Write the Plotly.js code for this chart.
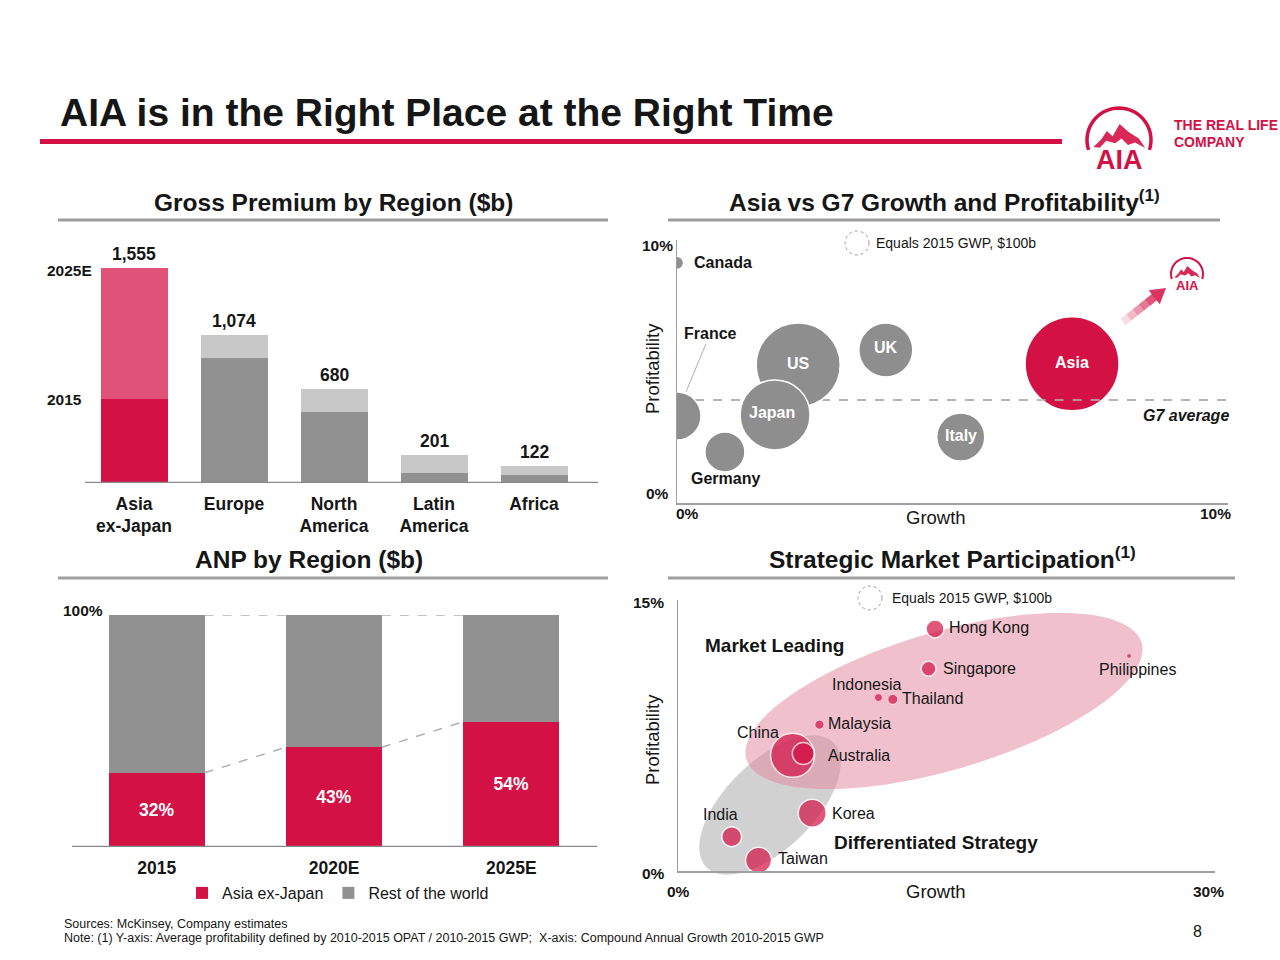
<!DOCTYPE html>
<html><head><meta charset="utf-8">
<script src="https://cdn.plot.ly/plotly-3.0.1.min.js"></script>
<style>html,body{margin:0;padding:0;background:#fff}#chart{width:1280px;height:960px}</style>
</head><body><div id="chart"></div>
<script>
const W = 1280, H = 960;
const FONT = '"Liberation Sans", Arial, Helvetica, sans-serif';

// ---- Gross Premium by Region ($b)
const gpRegions = ['Asia<br>ex-Japan', 'Europe', 'North<br>America', 'Latin<br>America', 'Africa'];
const gp2015 = [607, 904, 514, 75, 55];
const gp2025E = [1555, 1074, 680, 201, 122];

// ---- Asia vs G7 Growth and Profitability
const g7Names = ['Canada', 'France', 'Germany', 'US', 'Japan', 'UK', 'Italy', 'Asia'];
const g7Growth = [0, 0, 0.87, 2.2, 1.78, 3.79, 5.15, 7.17];
const g7Profit = [9.13, 3.31, 1.94, 5.25, 3.35, 5.82, 2.51, 5.29];
const g7Gwp = [30, 400, 278, 1225, 850, 506, 400, 1534];
const g7Average = 3.92;

// ---- ANP by Region ($b)
const anpYears = ['2015', '2020E', '2025E'];
const anpAsia = [32, 43, 54];
const anpRest = [68, 57, 46];

// ---- Strategic Market Participation
const mktNames = ['Hong Kong', 'Singapore', 'Philippines', 'Indonesia', 'Thailand', 'Malaysia', 'China', 'Australia', 'Korea', 'India', 'Taiwan'];
const mktGrowth = [14.36, 14.0, 25.2, 11.2, 12.0, 7.9, 6.4, 7.0, 7.5, 3.0, 4.5];
const mktProfit = [13.4, 11.2, 11.9, 9.6, 9.5, 8.1, 6.4, 6.5, 3.2, 1.9, 0.6];
const mktGwp = [56, 39, 4, 11, 17, 14, 336, 84, 136, 69, 117];

const RED = '#d31145', PINK = '#e05278', GREY = '#919191', LGREY = '#c8c8c8', BGREY = '#8e8e8e', DARK = '#161616';
const px = x => x / W, py = y => 1 - y / H;
const SIZEREF = 100 / 288; // $100b -> 12px radius

const traces = [];
// top-left stacked bars
traces.push({type: 'bar', x: gpRegions, y: gp2015, xaxis: 'x', yaxis: 'y', width: 0.67,
  marker: {color: gpRegions.map((_, i) => i === 0 ? RED : GREY)}, showlegend: false, hoverinfo: 'skip'});
traces.push({type: 'bar', x: gpRegions, y: gp2025E.map((v, i) => v - gp2015[i]), xaxis: 'x', yaxis: 'y', width: 0.67,
  marker: {color: gpRegions.map((_, i) => i === 0 ? PINK : LGREY)}, showlegend: false, hoverinfo: 'skip'});
// top-right bubbles
traces.push({type: 'scatter', mode: 'markers', x: g7Growth, y: g7Profit, xaxis: 'x2', yaxis: 'y2', showlegend: false,
  marker: {size: g7Gwp, sizemode: 'area', sizeref: SIZEREF, color: g7Names.map(n => n === 'Asia' ? RED : BGREY),
    line: {color: '#ffffff', width: 1.5}, opacity: 1}, hoverinfo: 'skip'});
// bottom-left 100% bars
traces.push({type: 'bar', name: 'Asia ex-Japan', x: anpYears, y: anpAsia, xaxis: 'x3', yaxis: 'y3', width: 0.54,
  marker: {color: RED}, text: anpAsia.map(v => v + '%'), textposition: 'inside', insidetextanchor: 'middle', textangle: 0,
  textfont: {color: '#ffffff', size: 17.5, weight: 'bold', family: FONT}, hoverinfo: 'skip'});
traces.push({type: 'bar', name: 'Rest of the world', x: anpYears, y: anpRest, xaxis: 'x3', yaxis: 'y3', width: 0.54,
  marker: {color: GREY}, hoverinfo: 'skip'});
// bottom-right bubbles
traces.push({type: 'scatter', mode: 'markers', x: mktGrowth, y: mktProfit, xaxis: 'x4', yaxis: 'y4', showlegend: false,
  marker: {size: mktGwp, sizemode: 'area', sizeref: SIZEREF, color: RED,
    line: {color: '#ffffff', width: mktGwp.map(g => g < 20 ? 0.7 : 1.5)}}, hoverinfo: 'skip'});

const shapes = [];
const annotations = [];
function ann(x, y, text, o) {
  annotations.push(Object.assign({xref: 'paper', yref: 'paper', x: px(x), y: py(y), text: text, showarrow: false,
    xanchor: 'center', yanchor: 'middle', font: {size: 16, color: DARK, family: FONT}}, o || {}));
}
function hline(x0, x1, y, w, c) {
  shapes.push({type: 'line', xref: 'paper', yref: 'paper', x0: px(x0), x1: px(x1), y0: py(y), y1: py(y), line: {color: c, width: w}});
}
function poly(pts) {
  return pts.map((q, i) => (i ? 'L' : 'M') + px(q[0]).toFixed(5) + ',' + py(q[1]).toFixed(5)).join(' ') + ' Z';
}

// title and rules
ann(58, 112, '<b>AIA is in the Right Place at the Right Time</b>', {xanchor: 'left', font: {size: 39, color: DARK, family: FONT}});
shapes.push({type: 'rect', xref: 'paper', yref: 'paper', x0: px(40), x1: px(1062), y0: py(144), y1: py(139), fillcolor: RED, line: {width: 0}});
hline(58, 608, 220, 3, '#9e9e9e');
hline(668, 1220, 220, 3, '#9e9e9e');
hline(58, 608, 578, 3, '#9e9e9e');
hline(668, 1235, 578, 3, '#9e9e9e');
const secFont = {size: 24.5, color: DARK, family: FONT, weight: 'bold'};
ann(333, 202, 'Gross Premium by Region ($b)', {font: secFont});
ann(944, 200, 'Asia vs G7 Growth and Profitability<sup>(1)</sup>', {font: secFont});
ann(309, 559, 'ANP by Region ($b)', {font: secFont});
ann(952, 557, 'Strategic Market Participation<sup>(1)</sup>', {font: secFont});

// logo drawing
function logo(cx, cy, r, sw, fs, ty) {
  let d = '';
  for (let a = -18; a <= 198; a += 6) {
    const rad = a * Math.PI / 180;
    d += (d ? ' L' : 'M') + px(cx + r * Math.cos(rad)).toFixed(5) + ',' + py(cy - r * Math.sin(rad)).toFixed(5);
  }
  shapes.push({type: 'path', xref: 'paper', yref: 'paper', path: d, line: {color: RED, width: sw}});
  const m = [[-0.8, 0.22], [-0.55, -0.02], [-0.38, -0.28], [-0.2, -0.12], [0.02, -0.5], [0.3, -0.25], [0.62, -0.05],
    [0.82, 0.25], [0.5, 0.08], [0.28, 0.16], [0.08, -0.05], [-0.12, 0.1], [-0.4, 0.02], [-0.6, 0.24]];
  shapes.push({type: 'path', xref: 'paper', yref: 'paper', path: poly(m.map(q => [cx + q[0] * r, cy + q[1] * r])),
    fillcolor: RED, line: {width: 0}, opacity: 0.9});
  ann(cx, ty, '<b>AIA</b>', {font: {size: fs, color: RED, family: FONT}});
}
logo(1119, 140, 32, 3.5, 27, 160);
ann(1172, 125, '<b>THE REAL LIFE</b>', {xanchor: 'left', font: {size: 14, color: RED, family: FONT}});
ann(1172, 142, '<b>COMPANY</b>', {xanchor: 'left', font: {size: 14, color: RED, family: FONT}});
logo(1187, 274, 16, 2, 13, 286);
// gradient-like arrow toward the small logo
(function () {
  const tail = [1123, 322], tip = [1166, 288];
  const L = Math.hypot(tip[0] - tail[0], tip[1] - tail[1]);
  const u = [(tip[0] - tail[0]) / L, (tip[1] - tail[1]) / L], n = [-u[1], u[0]];
  const headLen = 15, sh = 4, hh = 9;
  const base = [tip[0] - u[0] * headLen, tip[1] - u[1] * headLen];
  const segs = 5;
  for (let k = 0; k < segs; k++) {
    const f0 = k / segs, f1 = (k + 1) / segs;
    const a = [tail[0] + (base[0] - tail[0]) * f0, tail[1] + (base[1] - tail[1]) * f0];
    const b = [tail[0] + (base[0] - tail[0]) * f1 + u[0] * 0.5, tail[1] + (base[1] - tail[1]) * f1 + u[1] * 0.5];
    shapes.push({type: 'path', xref: 'paper', yref: 'paper', line: {width: 0}, fillcolor: RED, opacity: 0.15 + 0.14 * k,
      path: poly([[a[0] + n[0] * sh, a[1] + n[1] * sh], [b[0] + n[0] * sh, b[1] + n[1] * sh], [b[0] - n[0] * sh, b[1] - n[1] * sh], [a[0] - n[0] * sh, a[1] - n[1] * sh]])});
  }
  shapes.push({type: 'path', xref: 'paper', yref: 'paper', line: {width: 0}, fillcolor: RED, opacity: 0.85,
    path: poly([[base[0] + n[0] * hh, base[1] + n[1] * hh], tip, [base[0] - n[0] * hh, base[1] - n[1] * hh]])});
})();

// ---- top-left annotations
gpRegions.forEach((r, i) => {
  annotations.push({xref: 'x', yref: 'y', x: r, y: gp2025E[i], yanchor: 'bottom', yshift: 2, showarrow: false,
    text: gp2025E[i].toLocaleString('en-US'), font: {size: 17.5, color: DARK, family: FONT, weight: 'bold'}});
});
annotations.push({xref: 'paper', yref: 'y', x: px(45), y: gp2025E[0], xanchor: 'left', showarrow: false, text: '2025E',
  font: {size: 15.5, color: DARK, family: FONT, weight: 'bold'}, yshift: -2});
annotations.push({xref: 'paper', yref: 'y', x: px(45), y: gp2015[0], xanchor: 'left', showarrow: false, text: '2015',
  font: {size: 15.5, color: DARK, family: FONT, weight: 'bold'}});
shapes.push({type: 'line', xref: 'paper', yref: 'y', x0: px(85), x1: px(598), y0: 0, y1: 0, line: {color: '#8a8a8a', width: 2.5}});

// ---- top-right annotations
const cornerFont = {size: 15.5, color: DARK, family: FONT, weight: 'bold'};
ann(657, 246, '10%', {font: cornerFont});
ann(657, 493, '0%', {font: cornerFont});
ann(687, 513, '0%', {font: cornerFont});
ann(1215, 513, '10%', {font: cornerFont});
ann(936, 517, 'Growth', {font: {size: 18.5, color: DARK, family: FONT}});
ann(652, 369, 'Profitability', {textangle: -90, font: {size: 18.5, color: DARK, family: FONT}});
shapes.push({type: 'circle', xref: 'paper', yref: 'paper', x0: px(845), x1: px(869), y0: py(231), y1: py(255), line: {color: '#9a9a9a', width: 1, dash: 'dot'}});
ann(874, 243, 'Equals 2015 GWP, $100b', {xanchor: 'left', font: {size: 14, color: DARK, family: FONT}});
shapes.push({type: 'line', xref: 'x2', yref: 'y2', x0: 0, x1: 10, y0: g7Average, y1: g7Average, layer: 'below', line: {color: '#9a9a9a', width: 1.5, dash: 'dash'}});
shapes.push({type: 'line', xref: 'x2', yref: 'y2', x0: 6.2, x1: 8.1, y0: g7Average, y1: g7Average, line: {color: '#b8b8b8', width: 1.5, dash: 'dash'}});
annotations.push({xref: 'paper', yref: 'y2', x: px(1231), y: g7Average, yshift: -16, xanchor: 'right', showarrow: false,
  text: '<i><b>G7 average</b></i>', font: {size: 16, color: DARK, family: FONT}});
const g7Lab = {
  Canada: {c: DARK, xa: 'left', dx: 15, dy: 0},
  Germany: {c: DARK, xa: 'center', dx: 1, dy: -27},
  US: {c: '#fff', xa: 'center', dx: 0, dy: 1},
  Japan: {c: '#fff', xa: 'center', dx: -3, dy: 2},
  UK: {c: '#fff', xa: 'center', dx: 0, dy: 2},
  Italy: {c: '#fff', xa: 'center', dx: 0, dy: 1},
  Asia: {c: '#fff', xa: 'center', dx: 0, dy: 1}
};
g7Names.forEach((n, i) => {
  if (n === 'France') {
    annotations.push({xref: 'x2', yref: 'y2', x: g7Growth[i], y: g7Profit[i], xshift: 9, yshift: 24, ax: 24, ay: -58,
      showarrow: true, arrowhead: 0, arrowwidth: 0.8, arrowcolor: '#9a9a9a', text: '<b>France</b>',
      font: {size: 16, color: DARK, family: FONT}});
    return;
  }
  const s = g7Lab[n];
  annotations.push({xref: 'x2', yref: 'y2', x: g7Growth[i], y: g7Profit[i], xanchor: s.xa, xshift: s.dx, yshift: s.dy,
    showarrow: false, text: '<b>' + n + '</b>', font: {size: 16, color: s.c, family: FONT}});
});

// ---- bottom-left annotations
ann(83, 610, '100%', {font: cornerFont});
shapes.push({type: 'line', xref: 'paper', yref: 'y3', x0: px(72), x1: px(597), y0: 0, y1: 0, line: {color: '#8a8a8a', width: 2.5}});
for (let i = 0; i < anpYears.length - 1; i++) {
  shapes.push({type: 'line', xref: 'x3', yref: 'y3', x0: i + 0.27, x1: i + 0.73, y0: anpAsia[i], y1: anpAsia[i + 1], line: {color: '#b0b0b0', width: 1.5, dash: 'dash'}});
  shapes.push({type: 'line', xref: 'x3', yref: 'y3', x0: i + 0.27, x1: i + 0.73, y0: anpAsia[i] + anpRest[i], y1: anpAsia[i + 1] + anpRest[i + 1], line: {color: '#b0b0b0', width: 1.5, dash: 'dash'}});
}

// ---- bottom-right
function ellipse(cx, cy, a, b, phiDeg) {
  const phi = phiDeg * Math.PI / 180;
  const pts = [];
  for (let k = 0; k < 96; k++) {
    const t = k / 96 * 2 * Math.PI;
    const ex = a * Math.cos(t), ey = b * Math.sin(t);
    pts.push([cx + ex * Math.cos(phi) + ey * Math.sin(phi), cy - ex * Math.sin(phi) + ey * Math.cos(phi)]);
  }
  return poly(pts);
}
shapes.push({type: 'path', xref: 'paper', yref: 'paper', layer: 'below', path: ellipse(770, 805, 89, 44, 44.3), fillcolor: 'rgba(178,178,178,0.6)', line: {width: 0}});
shapes.push({type: 'path', xref: 'paper', yref: 'paper', layer: 'below', path: ellipse(944, 701, 206, 69, 16.4), fillcolor: 'rgba(228,135,160,0.52)', line: {width: 0}});
ann(648, 602, '15%', {font: cornerFont});
ann(653, 873, '0%', {font: cornerFont});
ann(678, 891, '0%', {font: cornerFont});
ann(1208, 891, '30%', {font: cornerFont});
ann(936, 891, 'Growth', {font: {size: 18.5, color: DARK, family: FONT}});
ann(652, 740, 'Profitability', {textangle: -90, font: {size: 18.5, color: DARK, family: FONT}});
shapes.push({type: 'circle', xref: 'paper', yref: 'paper', x0: px(858), x1: px(882), y0: py(586), y1: py(610), line: {color: '#9a9a9a', width: 1, dash: 'dot'}});
ann(890, 598, 'Equals 2015 GWP, $100b', {xanchor: 'left', font: {size: 14, color: DARK, family: FONT}});
ann(703, 645, '<b>Market Leading</b>', {xanchor: 'left', font: {size: 19, color: DARK, family: FONT}});
ann(832, 842, '<b>Differentiated Strategy</b>', {xanchor: 'left', font: {size: 19, color: DARK, family: FONT}});
const mktLab = {
  'Hong Kong': ['left', 12, 1], 'Singapore': ['left', 12, 0], 'Philippines': ['center', 8, -13],
  'Indonesia': ['center', -12, 13], 'Thailand': ['left', 7, 1], 'Malaysia': ['left', 7, 1],
  'China': ['center', -35, 23], 'Australia': ['left', 23, -2], 'Korea': ['left', 18, 0],
  'India': ['center', -11, 22], 'Taiwan': ['left', 17, 2]
};
mktNames.forEach((n, i) => {
  const s = mktLab[n];
  annotations.push({xref: 'x4', yref: 'y4', x: mktGrowth[i], y: mktProfit[i], xanchor: s[0], xshift: s[1], yshift: s[2],
    showarrow: false, text: n, font: {size: 16, color: DARK, family: FONT}});
});

// footnotes
ann(62, 924, 'Sources: McKinsey, Company estimates', {xanchor: 'left', font: {size: 12.5, color: DARK, family: FONT}});
ann(62, 938, 'Note: (1) Y-axis: Average profitability defined by 2010-2015 OPAT / 2010-2015 GWP;&nbsp; X-axis: Compound Annual Growth 2010-2015 GWP', {xanchor: 'left', font: {size: 12.5, color: DARK, family: FONT}});
ann(1197, 931, '8', {font: {size: 16, color: DARK, family: FONT}});

const bubAxis = {showgrid: false, zeroline: false, showticklabels: false, ticks: '', showline: true, linecolor: '#a0a0a0', linewidth: 1.5, fixedrange: true};
const layout = {
  width: W, height: H, margin: {l: 0, r: 0, t: 0, b: 0}, paper_bgcolor: '#ffffff', plot_bgcolor: 'rgba(0,0,0,0)',
  font: {family: FONT, color: DARK}, barmode: 'stack', hovermode: false,
  xaxis: {domain: [px(84), px(584)], type: 'category', showgrid: false, zeroline: false, showline: false, ticks: '',
    ticklabelstandoff: 8, tickfont: {size: 17.5, color: DARK, family: FONT, weight: 'bold'}, anchor: 'y', fixedrange: true},
  yaxis: {domain: [py(483), py(248)], range: [0, 1700], visible: false, anchor: 'x', fixedrange: true},
  xaxis2: Object.assign({domain: [px(677), px(1228)], range: [0, 10], anchor: 'y2'}, bubAxis),
  yaxis2: Object.assign({domain: [py(503), py(240)], range: [0, 10], anchor: 'x2'}, bubAxis),
  xaxis3: {domain: [px(68), px(600)], type: 'category', showgrid: false, zeroline: false, showline: false, ticks: '',
    ticklabelstandoff: 8, tickfont: {size: 17.5, color: DARK, family: FONT, weight: 'bold'}, anchor: 'y3', fixedrange: true},
  yaxis3: {domain: [py(847), py(615)], range: [0, 100], visible: false, anchor: 'x3', fixedrange: true},
  xaxis4: Object.assign({domain: [px(678), px(1215)], range: [0, 30], anchor: 'y4'}, bubAxis),
  yaxis4: Object.assign({domain: [py(871), py(600)], range: [0, 15], anchor: 'x4'}, bubAxis),
  showlegend: true,
  legend: {orientation: 'h', x: px(182), xanchor: 'left', y: py(893), yanchor: 'middle', font: {size: 16, color: DARK, family: FONT},
    bgcolor: 'rgba(0,0,0,0)', traceorder: 'normal', itemclick: false, itemdoubleclick: false},
  shapes: shapes, annotations: annotations
};
Plotly.newPlot('chart', traces, layout, {displayModeBar: false, staticPlot: true});
</script></body></html>
